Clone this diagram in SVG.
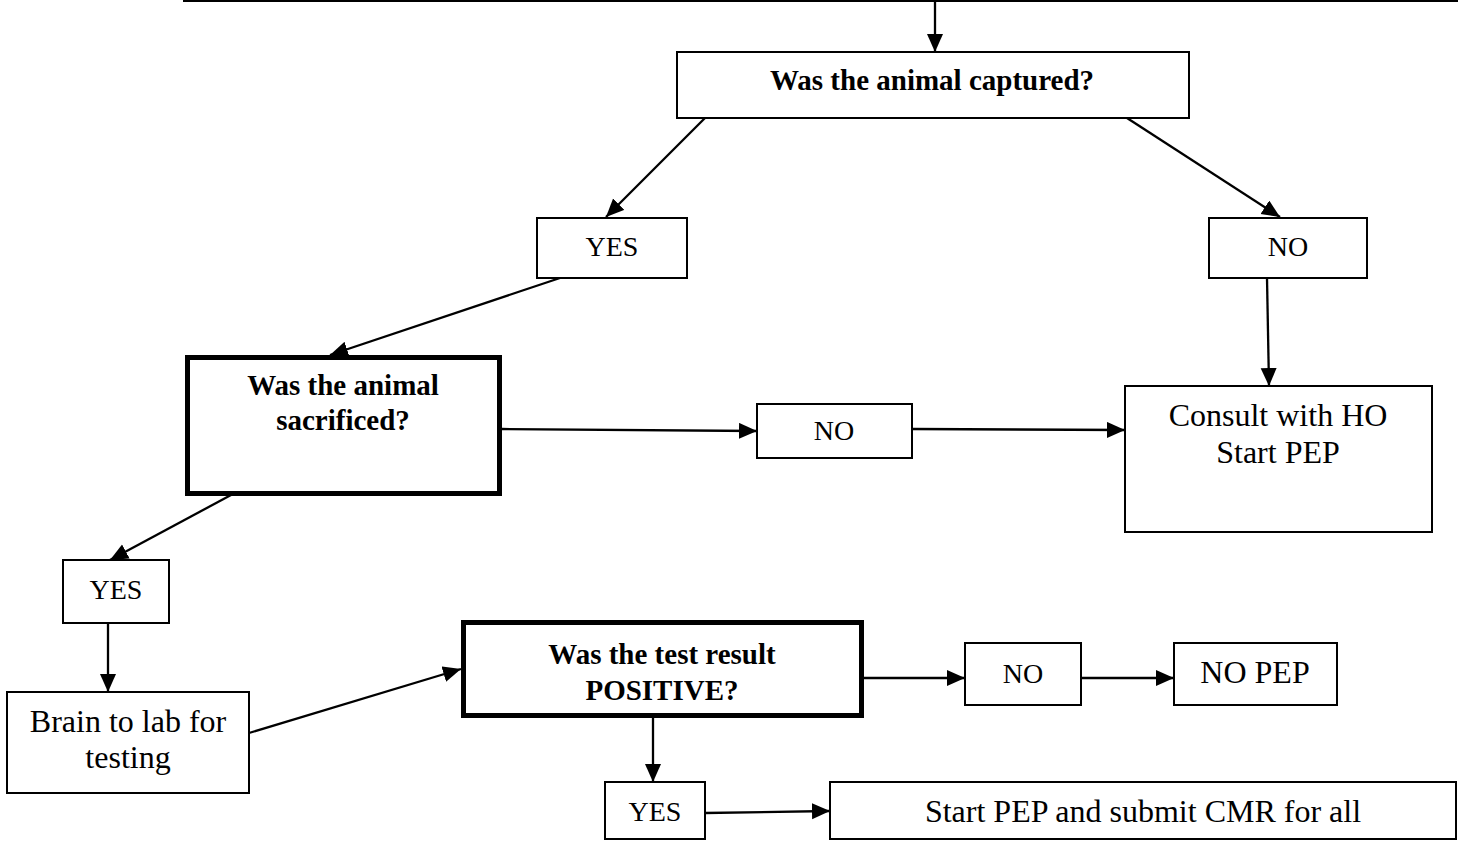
<svg xmlns="http://www.w3.org/2000/svg" width="1458" height="841" viewBox="0 0 1458 841">
<style>
.box{fill:#fff;stroke:#000;stroke-width:2}
.thick{fill:#fff;stroke:#000;stroke-width:5}
.t{font-family:"Liberation Serif","Times New Roman",serif;font-size:32px;fill:#000;text-anchor:middle}
.s{font-size:28px}
.b{font-weight:bold;font-size:29px}
.c{stroke:#000;stroke-width:2.3;fill:none;marker-end:url(#ah)}
</style>
<defs>
<marker id="ah" markerUnits="userSpaceOnUse" markerWidth="20" markerHeight="18" refX="18" refY="8" orient="auto">
<path d="M0,0 L18,8 L0,16 z" fill="#000"/>
</marker>
</defs>
<g id="connectors">
<line x1="183" y1="1" x2="1458" y2="1" stroke="#000" stroke-width="2"/>
<line class="c" x1="935" y1="1" x2="935" y2="52"/>
<line class="c" x1="705" y1="118" x2="606" y2="217"/>
<line class="c" x1="1127" y1="118" x2="1280" y2="217"/>
<line class="c" x1="560" y1="278" x2="330" y2="355"/>
<line class="c" x1="502" y1="429" x2="757" y2="431"/>
<line class="c" x1="912" y1="429" x2="1125" y2="430"/>
<line class="c" x1="1267" y1="278" x2="1269" y2="386"/>
<line class="c" x1="231" y1="495" x2="110" y2="560"/>
<line class="c" x1="108" y1="623" x2="108" y2="692"/>
<line class="c" x1="249" y1="733" x2="461" y2="669"/>
<line class="c" x1="864" y1="678" x2="965" y2="678"/>
<line class="c" x1="1081" y1="678" x2="1174" y2="678"/>
<line class="c" x1="653" y1="718" x2="653" y2="782"/>
<line class="c" x1="705" y1="813" x2="830" y2="811"/>
</g>
<g id="captured">
<rect class="box" x="677" y="52" width="512" height="66"/>
<text class="t b" x="932" y="90">Was the animal captured?</text>
</g>
<g id="yes1">
<rect class="box" x="537" y="218" width="150" height="60"/>
<text class="t s" x="612" y="256">YES</text>
</g>
<g id="no1">
<rect class="box" x="1209" y="218" width="158" height="60"/>
<text class="t s" x="1288" y="256">NO</text>
</g>
<g id="sacrificed">
<rect class="thick" x="187.5" y="357.5" width="312" height="136"/>
<text class="t b" x="343" y="395">Was the animal</text>
<text class="t b" x="343" y="430">sacrificed?</text>
</g>
<g id="no2">
<rect class="box" x="757" y="404" width="155" height="54"/>
<text class="t s" x="834" y="440">NO</text>
</g>
<g id="consult">
<rect class="box" x="1125" y="386" width="307" height="146"/>
<text class="t" x="1278" y="426">Consult with HO</text>
<text class="t" x="1278" y="463">Start PEP</text>
</g>
<g id="yes3">
<rect class="box" x="63" y="560" width="106" height="63"/>
<text class="t s" x="116" y="599">YES</text>
</g>
<g id="brain">
<rect class="box" x="7" y="692" width="242" height="101"/>
<text class="t" x="128" y="732">Brain to lab for</text>
<text class="t" x="128" y="768">testing</text>
</g>
<g id="test">
<rect class="thick" x="463.5" y="622.5" width="398" height="93"/>
<text class="t b" x="662" y="664">Was the test result</text>
<text class="t b" x="662" y="700">POSITIVE?</text>
</g>
<g id="no4">
<rect class="box" x="965" y="643" width="116" height="62"/>
<text class="t s" x="1023" y="683">NO</text>
</g>
<g id="nopep">
<rect class="box" x="1174" y="643" width="163" height="62"/>
<text class="t" x="1255" y="683">NO PEP</text>
</g>
<g id="yes5">
<rect class="box" x="605" y="782" width="100" height="57"/>
<text class="t s" x="655" y="821">YES</text>
</g>
<g id="startpep">
<rect class="box" x="830" y="782" width="626" height="57"/>
<text class="t" x="1143" y="822">Start PEP and submit CMR for all</text>
</g>
</svg>
